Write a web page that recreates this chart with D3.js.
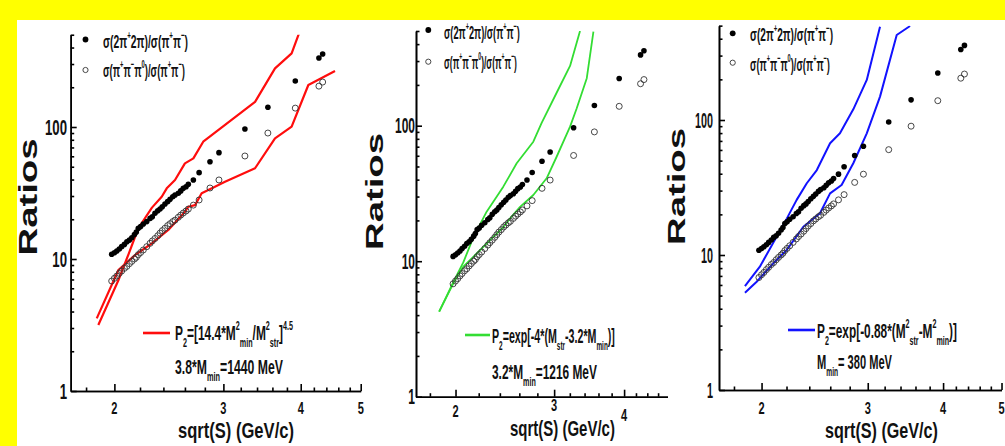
<!DOCTYPE html>
<html><head><meta charset="utf-8">
<script src="https://cdn.jsdelivr.net/npm/d3@7"></script>
<style>html,body{margin:0;padding:0;background:#ffff00;} svg{display:block;}</style>
</head><body>
<svg id="c" width="1005" height="446"></svg>
<script>
// ---------------- data ----------------
const sqrtS = [1.98,2.00,2.018,2.037,2.055,2.076,2.095,2.115,2.134,2.155,2.17,2.186,2.205,2.227,2.256,2.284,2.303,2.326,2.35,2.37,2.39,2.414,2.438,2.46,2.485,2.506,2.537,2.56,2.584,2.611,2.633,2.683,2.741,2.854,2.951,3.25,3.54,3.92,4.28,4.34];
const ratio4pi = [10.85,11.16,11.5,11.9,12.4,12.9,13.5,13.9,14.5,15.3,16.0,17.1,17.6,18.4,19.2,20.3,20.9,22.2,23.2,23.9,24.9,26.1,27.2,28.3,29.6,30.5,31.5,32.8,34.3,35.3,36.8,39.7,45.1,54.6,63.9,96.6,141,223,333,357];
const ratio3pi = [6.81,7.14,7.43,7.79,8.11,8.5,8.8,9.22,9.6,10.0,10.3,10.78,11.2,11.7,12.4,13.15,13.7,14.3,15.0,15.7,16.4,17.1,17.9,18.5,19.2,19.7,20.7,21.5,22.3,23.1,23.9,25.6,28.0,34.5,39.7,60.3,90,139,204,219];

const redUpperS = [1.884,2.03,2.11,2.186,2.30,2.385,2.43,2.506,2.60,2.683,2.783,3.375,3.635,3.867,3.975];
const redUpperR = [3.16,6.9,11.0,17.1,24.5,29.6,34.3,39.7,53,57.9,77.4,155,278,361,513];
const redLowerS = [1.873,2.03,2.159,2.298,2.444,2.601,2.633,2.70,2.767,2.907,3.018,3.375,3.635,3.867,4.115,4.544];
const redLowerR = [3.55,8.25,10.7,13.1,16.6,22.8,24.9,25.6,31.5,35.3,38.5,48.7,82,100.5,208,266];

const greenUpperS = [1.87,1.982,2.065,2.152,2.273,2.434,2.572,2.754,2.85,3.031,3.203,3.337];
const greenUpperR = [4.24,7.0,9.8,15.0,23.2,35.5,52.8,76.2,105,175,276,500];
const greenLowerS = [1.87,1.982,2.065,2.182,2.305,2.434,2.503,2.608,2.754,2.909,3.031,3.203,3.291,3.431,3.526];
const greenLowerR = [4.24,6.87,9.11,11.4,14.3,17.8,20.7,25.2,30.8,40.9,59,98.4,134,224,494];

const blueUpperS = [1.877,1.987,2.202,2.287,2.377,2.47,2.598,2.698,2.839,2.989,3.144];
const blueUpperR = [5.89,8.19,18.6,25.6,34,42.6,67.2,79.7,120,198,491];
const blueLowerS = [1.877,1.963,2.092,2.202,2.346,2.5,2.598,2.715,2.839,2.989,3.144,3.351,3.526];
const blueLowerR = [5.26,6.34,8.68,10.9,16.2,20.4,28.6,33.0,47.8,79.7,149,426,497];

const xDomain = [1.7, 5];
const yDomain = [1, 500];
const xMajorTicks = [2,3,4,5];
const xMinorTicks = [1.8,2.2,2.4,2.6,2.8,3.2,3.4,3.6,3.8,4.2,4.4,4.6,4.8];
const yMajorTicks = [1,10,100];
const yMinorTicks = [2,3,4,5,6,7,8,9,20,30,40,50,60,70,80,90,200,300,400,500];
const xTickLabels = ["2","3","4","5"];
const yTickLabels = ["1","10","100"];

const legend1 = [["σ(2π",""],["+","sup"],["2π)/σ(π",""],["+","sup"],["π",""],["−","sup"],[")",""]];
const legend2 = [["σ(π",""],["+","sup"],["π",""],["−","sup"],["π",""],["0","sup"],[")/σ(π",""],["+","sup"],["π",""],["−","sup"],[")",""]];

const formula1 = [["P",""],["2","sub"],["=[14.4*M",""],["2","sup"],["min","sub"],["/M",""],["2","sup"],["str","sub"],["]",""],["4.5","sup"]];
const note1 = [["3.8*M",""],["min","sub"],["=1440 MeV",""]];
const formula2 = [["P",""],["2","sub"],["=exp[-4*(M",""],["str","sub"],["-3.2*M",""],["min","sub"],[")]",""]];
const note2 = [["3.2*M",""],["min","sub"],["=1216 MeV",""]];
const formula3 = [["P",""],["2","sub"],["=exp[-0.88*(M",""],["2","sup"],["str","sub"],["-M",""],["2","sup"],["min","sub"],[")]",""]];
const note3 = [["M",""],["min","sub"],["= 380 MeV",""]];

const yTitle = "Ratios";
const xTitle = "sqrt(S) (GeV/c)";

// ---------------- layout ----------------
const panels = [
  {left:70.7, bottom:391, pxX:619, pxY:132, color:"#ff0d0d", lw:2.2,
   curves:[[redUpperS,redUpperR],[redLowerS,redLowerR]],
   leg:{dx:85.5, r1:39.5, r2:70, tx:103, b1:47.5, b2:77, w1:85, w2:82},
   foot:{l0:143, l1:170, ly:333, tx:175, b1:339.5, w1:118, b2:373.5, w2:108, fs:21},
   xLab:{base:[414,414,414,414], fs:17},
   yLab:{right:67, w100:22, fs:22},
   yT:{x:37, y:197, len:117, fs:26},
   xT:{x:178, base:438, w:116, fs:22},
   formula:formula1, note:note1},
  {left:416, bottom:396.7, pxX:560, pxY:135.5, color:"#33dd33", lw:1.8,
   curves:[[greenUpperS,greenUpperR],[greenLowerS,greenLowerR]],
   leg:{dx:428.3, r1:30, r2:61.7, tx:444, b1:38.5, b2:69, w1:76, w2:73},
   foot:{l0:465, l1:490, ly:335, tx:492, b1:342.5, w1:123, b2:378.5, w2:105, fs:21},
   xLab:{base:[417,411,421,421], fs:17},
   yLab:{right:415, w100:20, fs:22},
   yT:{x:383, y:191.5, len:117, fs:23},
   xT:{x:510, base:436, w:105, fs:22},
   formula:formula2, note:note2},
  {left:719, bottom:390, pxX:603, pxY:135, color:"#1212ff", lw:2,
   curves:[[blueUpperS,blueUpperR],[blueLowerS,blueLowerR]],
   leg:{dx:732.7, r1:33.3, r2:62.7, tx:750, b1:41, b2:70.5, w1:83, w2:80},
   foot:{l0:788, l1:815, ly:330, tx:817, b1:337.5, w1:140, b2:368.5, w2:75, fs:21},
   xLab:{base:[414,414,414,414], fs:17},
   yLab:{right:713, w100:18, fs:22},
   yT:{x:685, y:186.5, len:117, fs:24},
   xT:{x:825, base:438, w:113, fs:22},
   formula:formula3, note:note3}
];

const FONT = "'Liberation Sans', Arial, Helvetica, sans-serif";
const svg = d3.select("#c");
svg.append("rect").attr("x",17).attr("y",20).attr("width",1005-17).attr("height",446-20).attr("fill","#fff");

function richText(parent, x, y, parts, size, opts={}) {
  const g = parent.append("g").attr("transform", `translate(${x},${y})`);
  const t = g.append("text").attr("font-family", FONT).attr("font-weight", "bold")
    .attr("font-size", size).attr("text-anchor", opts.anchor || "start").attr("fill", "#111");
  let cur = 0;
  parts.forEach(([s, k]) => {
    const off = k === "sup" ? -size * 0.45 : k === "sub" ? size * 0.38 : 0;
    const fs = k ? size * 0.6 : size;
    t.append("tspan").attr("dy", off - cur).attr("font-size", fs).text(s);
    cur = off;
  });
  let sx = opts.sx || 1;
  if (opts.width) sx = opts.width / t.node().getBBox().width;
  t.attr("transform", `scale(${sx},1)`);
  return g;
}

panels.forEach((p, i) => {
  const x = d3.scaleLog().domain(xDomain).range([p.left, p.left + p.pxX * Math.log10(xDomain[1] / xDomain[0])]);
  const y = d3.scaleLog().domain(yDomain).range([p.bottom, p.bottom - p.pxY * Math.log10(yDomain[1] / yDomain[0])]);
  if (i === 2) {
    // the third figure is pasted over the right end of the second one
    svg.append("rect").attr("x", 668).attr("y", 20).attr("width", 1005 - 668).attr("height", 426).attr("fill", "#fff");
  }
  const g = svg.append("g");
  const [x0, x1] = x.range(), [y0, y1] = y.range();

  const cid = "clip" + i;
  svg.append("defs").append("clipPath").attr("id", cid).append("rect")
    .attr("x", x0).attr("y", y1).attr("width", x1 - x0).attr("height", y0 - y1);

  const ax = (gen) => g.append("g").call(gen).call(s => {
    s.selectAll("path,line").attr("stroke", "#000").attr("stroke-width", 1.6);
    s.selectAll("text").remove();
  });
  ax(d3.axisBottom(x).tickValues(xMinorTicks).tickSize(-3.5).tickSizeOuter(0).tickFormat(""))
    .attr("transform", `translate(0,${y0})`);
  ax(d3.axisBottom(x).tickValues(xMajorTicks).tickSize(-7).tickSizeOuter(0).tickFormat(""))
    .attr("transform", `translate(0,${y0})`);
  ax(d3.axisLeft(y).tickValues(yMinorTicks).tickSize(-3.5).tickSizeOuter(0).tickFormat(""))
    .attr("transform", `translate(${x0},0)`);
  ax(d3.axisLeft(y).tickValues(yMajorTicks).tickSize(-6).tickSizeOuter(0).tickFormat(""))
    .attr("transform", `translate(${x0},0)`);

  xMajorTicks.forEach((v, k) => {
    richText(g, x(v), p.xLab.base[k], [[xTickLabels[k], ""]], p.xLab.fs, {anchor: "middle", sx: 0.65});
  });
  yMajorTicks.forEach((v, k) => {
    const sx = p.yLab.w100 / (3 * 0.556 * p.yLab.fs);
    richText(g, p.yLab.right, y(v) + 7.5, [[yTickLabels[k], ""]], p.yLab.fs, {anchor: "end", sx});
  });

  const line = d3.line().x(d => x(d[0])).y(d => y(d[1]));
  p.curves.forEach(([S, R]) => {
    g.append("path").attr("clip-path", `url(#${cid})`)
      .datum(S.map((s, k) => [s, R[k]]))
      .attr("d", line).attr("fill", "none").attr("stroke", p.color)
      .attr("stroke-width", p.lw).attr("stroke-linejoin", "round");
  });

  g.append("g").selectAll("circle").data(sqrtS.map((s, k) => [s, ratio3pi[k]])).join("circle")
    .attr("cx", d => x(d[0])).attr("cy", d => y(d[1])).attr("r", 3)
    .attr("fill", "none").attr("stroke", "#333").attr("stroke-width", 0.9);
  g.append("g").selectAll("circle").data(sqrtS.map((s, k) => [s, ratio4pi[k]])).join("circle")
    .attr("cx", d => x(d[0])).attr("cy", d => y(d[1])).attr("r", 2.8).attr("fill", "#000");

  const L = p.leg;
  g.append("circle").attr("cx", L.dx).attr("cy", L.r1).attr("r", 2.9).attr("fill", "#000");
  g.append("circle").attr("cx", L.dx).attr("cy", L.r2).attr("r", 2.6).attr("fill", "none").attr("stroke", "#333").attr("stroke-width", 0.9);
  richText(g, L.tx, L.b1, legend1, 19, {width: L.w1});
  richText(g, L.tx, L.b2, legend2, 19, {width: L.w2});

  const F = p.foot;
  g.append("line").attr("x1", F.l0).attr("x2", F.l1).attr("y1", F.ly).attr("y2", F.ly)
    .attr("stroke", p.color).attr("stroke-width", 2.6);
  richText(g, F.tx, F.b1, p.formula, F.fs, {width: F.w1});
  richText(g, F.tx, F.b2, p.note, F.fs, {width: F.w2});

  g.append("text").attr("transform", `translate(${p.yT.x},${p.yT.y}) rotate(-90)`)
    .attr("text-anchor", "middle").attr("font-family", FONT).attr("font-weight", "bold")
    .attr("font-size", p.yT.fs).attr("textLength", p.yT.len).attr("lengthAdjust", "spacingAndGlyphs")
    .attr("fill", "#111").text(yTitle);
  richText(g, p.xT.x, p.xT.base, [[xTitle, ""]], p.xT.fs, {width: p.xT.w});
});
</script>
</body></html>
